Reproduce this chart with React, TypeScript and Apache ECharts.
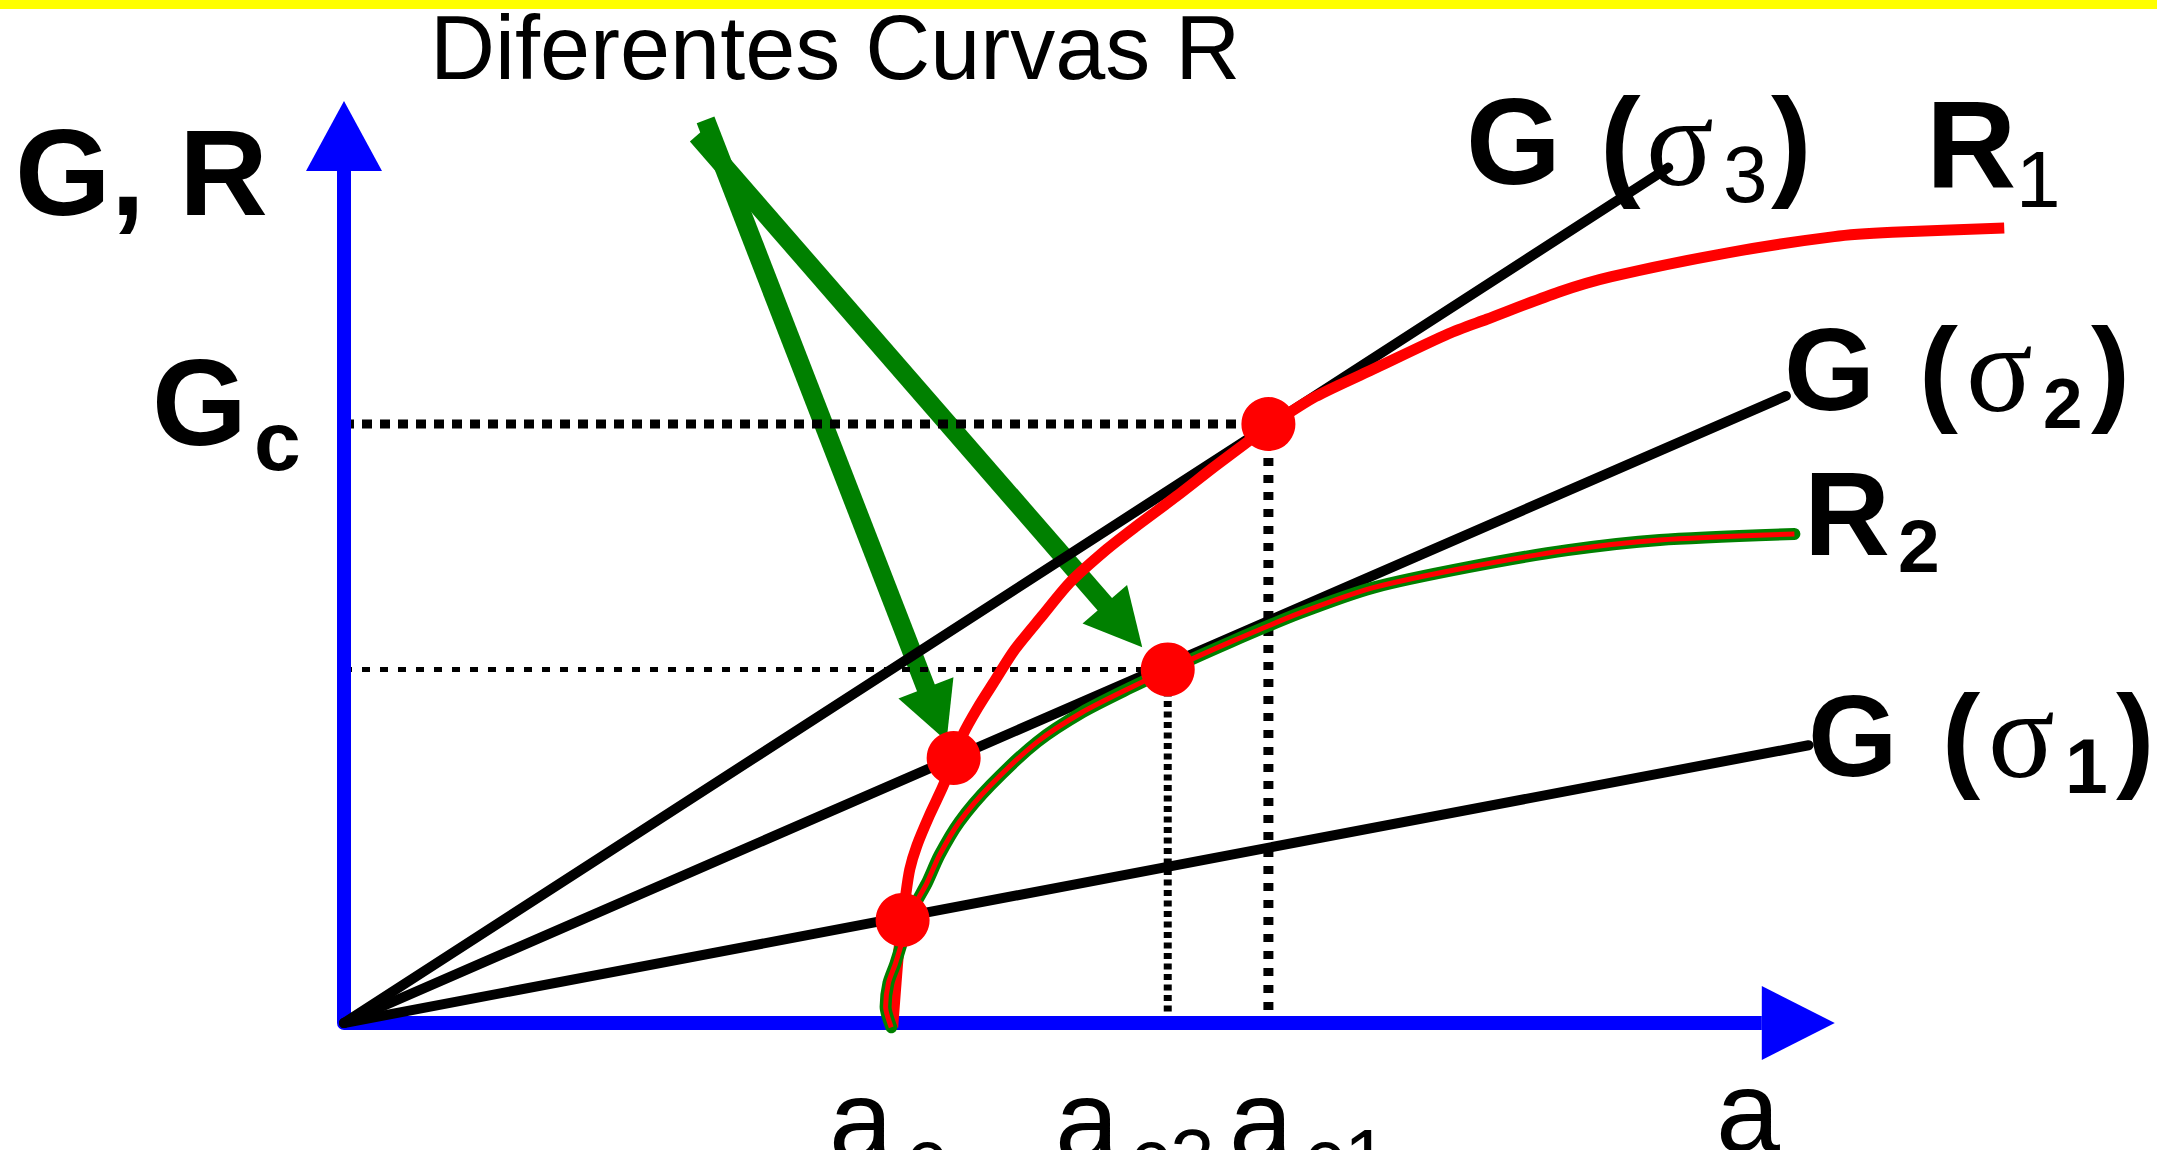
import React, { useEffect, useRef } from "react";
import * as echarts from "echarts";

const W = 2157;
const H = 1150;

// Axis ranges (crack length a, energy G / resistance R)
const xRange = [0, 118];
const yRange = [0, 100];

// Drawn a axis: from the origin to the arrow base
const aAxisLine = [[0, 0], [100, 0]];

// Driving-force lines G(σ) = k·a for three stress levels
const gSigma1 = [[0, 0], [103.3, 32.6]];
const gSigma2 = [[0, 0], [101.7, 73.6]];
const gSigma3 = [[0, 0], [93.4, 100.4]];

// Resistance curve R1
const r1Curve = [
  [38.7, -0.5], [38.9, 3.9], [39.1, 8.0], [39.4, 12.1], [39.6, 14.8], [39.9, 18.0],
  [40.4, 20.8], [41.3, 24.4], [42.2, 27.6], [43.0, 30.8], [43.7, 34.0], [44.7, 37.0],
  [45.8, 39.9], [47.3, 43.8], [49.2, 47.7], [51.2, 51.7], [53.8, 55.6], [55.8, 58.2],
  [58.7, 61.8], [61.4, 65.3], [63.8, 68.3], [65.2, 70.0], [68.5, 73.5], [72.8, 76.9],
  [77.9, 80.9], [80.6, 82.6], [85.7, 85.8], [89.4, 87.6], [97.6, 90.4], [105.1, 92.3],
  [109.2, 92.8], [117.1, 93.3],
];

// Resistance curve R2
const r2Curve = [
  [38.6, -0.5], [38.2, 1.9], [38.4, 4.7], [38.9, 7.0], [39.4, 9.7], [40.1, 13.3],
  [41.1, 16.4], [42.0, 19.7], [43.4, 23.6], [45.6, 27.9], [48.9, 33.0], [52.1, 36.5],
  [55.4, 39.3], [58.2, 41.5], [62.5, 44.7], [67.4, 48.1], [72.6, 51.1], [79.3, 53.5],
  [86.3, 55.5], [92.8, 56.7], [102.3, 57.4],
];

// Intersection / instability points: a_c, on R1 at σ2, a_c2, a_c1 (G = Gc)
const criticalPoints = [[39.4, 12.1], [43.0, 31.1], [58.1, 41.5], [65.2, 70.3]];

// "Diferentes Curvas R" pointer arrows: start and tip
const arrowStarts = [[25.5, 106.0], [24.9, 104.2]];
const arrowTips = [[42.5, 33.1], [56.3, 44.1]];

// Texts
const titleText = "Diferentes Curvas R";
const yAxisTitle = "G, R";
const xAxisTitle = "a";
const gcMain = "G";
const gcSub = "c";
const aLabelSubs = ["c", "c2", "c1"];

const SANS = "'Liberation Sans', Arial, Helvetica, sans-serif";
const SERIF = "'Liberation Serif', 'Times New Roman', serif";
const BLUE = "#0000ff";

type LabelOpts = { bold?: boolean; serif?: boolean };

// Text placed by its alphabetic baseline (SVG text is centred on the em box)
function label(text: string, x: number, baseline: number, size: number, opts: LabelOpts = {}) {
  const family = opts.serif ? SERIF : SANS;
  const central = opts.serif ? 0.3375 : 0.3465;
  return {
    type: "text",
    x,
    y: baseline - central * size,
    z: 100,
    silent: true,
    style: {
      text,
      fill: "#000000",
      font: `${opts.bold ? "bold " : ""}${size}px ${family}`,
      align: "left",
      verticalAlign: "middle",
      textAlign: "left",
      textVerticalAlign: "middle",
    },
  };
}

function buildOption() {
  const d2 = criticalPoints[2];
  const d3 = criticalPoints[3];
  const arrowData = arrowStarts.map((s, i) => [s[0], s[1], arrowTips[i][0], arrowTips[i][1]]);

  const blackLine = (data: number[][]) => ({
    type: "line",
    data,
    showSymbol: false,
    clip: false,
    z: 4,
    silent: true,
    lineStyle: { color: "#000000", width: 10, cap: "round" },
  });

  const dotted = (data: number[][], width: number, dash: number[]) => ({
    type: "line",
    data,
    showSymbol: false,
    clip: false,
    z: 2,
    silent: true,
    lineStyle: { color: "#000000", width, type: dash, cap: "butt" },
  });

  const aBaseline = 1160;
  const subBaseline = 1185;

  return {
    animation: false,
    backgroundColor: "#ffffff",
    grid: { left: 344, right: 140, top: 171, bottom: H - 1023, containLabel: false },
    xAxis: {
      type: "value",
      min: xRange[0],
      max: xRange[1],
      axisLine: { show: false },
      axisTick: { show: false },
      axisLabel: { show: false },
      splitLine: { show: false },
    },
    yAxis: {
      type: "value",
      min: yRange[0],
      max: yRange[1],
      z: 3,
      axisLine: {
        show: true,
        onZero: true,
        lineStyle: { color: BLUE, width: 14 },
        symbol: ["none", "triangle"],
        symbolSize: [76, 70],
        symbolOffset: [0, 35],
      },
      axisTick: { show: false },
      axisLabel: { show: false },
      splitLine: { show: false },
    },
    series: [
      {
        type: "custom",
        z: 1,
        silent: true,
        encode: { x: [0, 2], y: [1, 3] },
        data: arrowData,
        renderItem: (_params: any, api: any) => {
          const s = api.coord([api.value(0), api.value(1)]);
          const t = api.coord([api.value(2), api.value(3)]);
          const dx = t[0] - s[0];
          const dy = t[1] - s[1];
          const len = Math.hypot(dx, dy);
          const ux = dx / len;
          const uy = dy / len;
          const headLen = 57;
          const headHalf = 29.5;
          const bx = t[0] - ux * headLen;
          const by = t[1] - uy * headLen;
          const px = -uy;
          const py = ux;
          return {
            type: "group",
            children: [
              {
                type: "line",
                shape: { x1: s[0], y1: s[1], x2: bx + ux * 2, y2: by + uy * 2 },
                style: { stroke: "#008000", lineWidth: 19, lineCap: "butt" },
              },
              {
                type: "polygon",
                shape: {
                  points: [
                    [t[0], t[1]],
                    [bx + px * headHalf, by + py * headHalf],
                    [bx - px * headHalf, by - py * headHalf],
                  ],
                },
                style: { fill: "#008000" },
              },
            ],
          };
        },
      },
      // Guide lines to Gc and the critical crack lengths
      dotted([[0, d3[1]], d3], 9, [10, 8]),
      dotted([d3, [d3[0], 0]], 10, [8, 9]),
      dotted([[0, d2[1]], d2], 5, [8, 10]),
      dotted([d2, [d2[0], 0]], 8, [6, 4.5]),
      // a axis with its arrowhead
      {
        type: "line",
        data: aAxisLine,
        showSymbol: false,
        clip: false,
        z: 3,
        silent: true,
        lineStyle: { color: BLUE, width: 14, cap: "butt" },
      },
      {
        type: "scatter",
        data: [aAxisLine[1]],
        symbol: "triangle",
        symbolRotate: -90,
        symbolSize: [74, 73],
        symbolOffset: [36.5, 0],
        clip: false,
        z: 3,
        silent: true,
        itemStyle: { color: BLUE, opacity: 1 },
      },
      blackLine(gSigma1),
      blackLine(gSigma2),
      blackLine(gSigma3),
      {
        type: "line",
        data: r1Curve,
        showSymbol: false,
        clip: false,
        smooth: 0.25,
        z: 5,
        silent: true,
        lineStyle: { color: "#ff0000", width: 11, cap: "butt" },
      },
      {
        type: "line",
        data: r2Curve,
        showSymbol: false,
        clip: false,
        smooth: 0.25,
        z: 5,
        silent: true,
        lineStyle: { color: "#008000", width: 12, cap: "round" },
      },
      {
        type: "line",
        data: r2Curve,
        showSymbol: false,
        clip: false,
        smooth: 0.25,
        z: 5,
        silent: true,
        lineStyle: { color: "#ff0000", width: 5, cap: "butt" },
      },
      {
        type: "scatter",
        data: criticalPoints,
        symbol: "circle",
        symbolSize: 54,
        z: 6,
        silent: true,
        itemStyle: { color: "#ff0000", opacity: 1 },
      },
    ],
    graphic: {
      elements: [
        {
          type: "rect",
          z: 100,
          silent: true,
          shape: { x: 0, y: 0, width: W, height: 9 },
          style: { fill: "#ffff00" },
        },
        label(titleText, 430, 79, 90),
        label(yAxisTitle, 15, 215, 123, { bold: true }),
        label(gcMain, 152, 445, 122, { bold: true }),
        label(gcSub, 254, 470, 84, { bold: true }),

        // G (σ3)
        label("G", 1466, 184, 122, { bold: true }),
        label("(", 1600, 184, 122, { bold: true }),
        label("σ", 1646, 185, 126, { serif: true }),
        label("3", 1723, 202, 80),
        label(")", 1771, 184, 122, { bold: true }),

        // R1
        label("R", 1926, 188, 125, { bold: true }),
        label("1", 2016, 207, 80),

        // G (σ2)
        label("G", 1784, 410, 117, { bold: true }),
        label("(", 1919, 410, 117, { bold: true }),
        label("σ", 1966, 411, 124, { serif: true }),
        label("2", 2043, 428, 71, { bold: true }),
        label(")", 2091, 410, 117, { bold: true }),

        // R2
        label("R", 1804, 555, 119, { bold: true }),
        label("2", 1898, 572, 75, { bold: true }),

        // G (σ1)
        label("G", 1808, 776, 115, { bold: true }),
        label("(", 1942, 776, 115, { bold: true }),
        label("σ", 1988, 777, 124, { serif: true }),
        label("1", 2065, 793, 77, { bold: true }),
        label(")", 2116, 776, 115, { bold: true }),

        // Crack length labels along the a axis
        label(xAxisTitle, 829, aBaseline, 115),
        label(aLabelSubs[0], 906, subBaseline, 80),
        label(xAxisTitle, 1055, aBaseline, 115),
        label(aLabelSubs[1], 1130, subBaseline, 80),
        label(xAxisTitle, 1229, aBaseline, 115),
        label(aLabelSubs[2], 1304, subBaseline, 80),
        label(xAxisTitle, 1716, 1151, 115),
      ],
    },
  };
}

export default function App() {
  const ref = useRef<HTMLDivElement>(null);

  useEffect(() => {
    if (!ref.current) return;
    const chart = echarts.init(ref.current, null, { renderer: "svg", width: W, height: H });
    chart.setOption(buildOption() as any);
    return () => {
      chart.dispose();
    };
  }, []);

  return (
    <div
      ref={ref}
      style={{ position: "fixed", left: 0, top: 0, width: W, height: H, background: "#ffffff" }}
    />
  );
}
